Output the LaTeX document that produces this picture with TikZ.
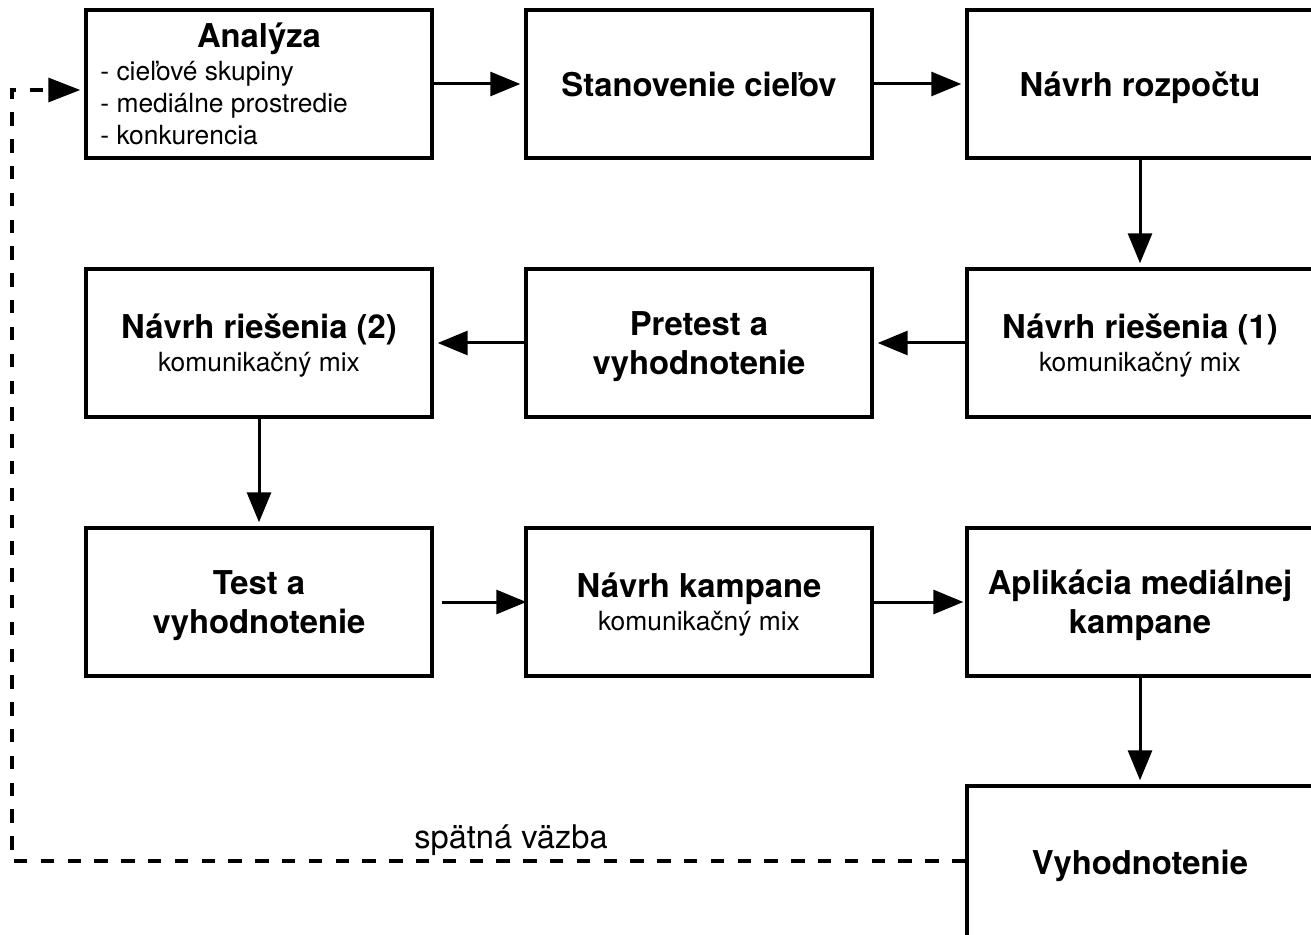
\documentclass[tikz,border=0pt]{standalone}
\usepackage{fontspec}
\setmainfont{TeX Gyre Heros}
\usetikzlibrary{arrows.meta,calc}
\begin{document}
\begin{tikzpicture}[x=0.5pt,y=-0.5pt,
  box/.style={draw,line width=1.7pt,minimum width=173pt,minimum height=74pt,inner sep=0pt,text depth=0pt,align=center,font=\fontsize{16.4}{19.5}\selectfont\bfseries},
  boxsub/.style={box,font=\fontsize{16.4}{16.5}\selectfont\bfseries},
  small/.style={font=\fontsize{13.2}{16}\selectfont},
  conn/.style={line width=1.5pt,-{Triangle[length=15pt,width=12pt]}},
  fb/.style={line width=1.6pt,dash pattern=on 6.7pt off 6.7pt,-{Triangle[length=16pt,width=12pt]}}]
\useasboundingbox (0,0) rectangle (1311,935);
\clip (0,0) rectangle (1311,935);
% row 1
\node[box] (ana) at (259,84) {};
\node[anchor=base,font=\fontsize{16.4}{19.5}\selectfont\bfseries] (anaT) at (259,48) {Analýza};
\node[small,anchor=base west,inner sep=0pt] (anaL1) at (100,81) {- cieľové skupiny};
\node[small,anchor=base west,inner sep=0pt] (anaL2) at (100,113) {- mediálne prostredie};
\node[small,anchor=base west,inner sep=0pt] (anaL3) at (100,145) {- konkurencia};
\node[box] (sta) at (699,84) {Stanovenie cieľov};
\node[box] (roz) at (1140,84) {Návrh rozpočtu};
% row 2
\node[boxsub] (nr2) at (259,343) {Návrh riešenia (2)\\{\mdseries\fontsize{13.2}{16}\selectfont komunikačný mix}};
\node[box] (pre) at (699,343) {Pretest a\\vyhodnotenie};
\node[boxsub] (nr1) at (1140,343) {Návrh riešenia (1)\\{\mdseries\fontsize{13.2}{16}\selectfont komunikačný mix}};
% row 3
\node[box] (tst) at (259,602) {Test a\\vyhodnotenie};
\node[boxsub] (kam) at (699,602) {Návrh kampane\\{\mdseries\fontsize{13.2}{16}\selectfont komunikačný mix}};
\node[box] (apl) at (1140,602) {Aplikácia mediálnej\\kampane};
% row 4
\node[box,minimum height=76pt] (vyh) at (1140,862) {Vyhodnotenie};
% connectors
\draw[conn,shorten >=2pt] (ana.east) -- (sta.west);
\draw[conn,shorten >=2pt] (sta.east) -- (roz.west);
\draw[conn,shorten >=2pt] (roz.south) -- (nr1.north);
\draw[conn,shorten >=2pt] (nr1.west) -- (pre.east);
\draw[conn,shorten >=2pt] (pre.west) -- (nr2.east);
\draw[conn,shorten >=2pt] (nr2.south) -- (tst.north);
\draw[conn,shorten <=4pt,shorten >=-1pt] (tst.east) -- (kam.west);
\draw[conn,shorten >=1pt] (kam.east) -- (apl.west);
\draw[conn,shorten >=2pt] (apl.south) -- (vyh.north);
% feedback
\coordinate (fbc) at (12,861);
\draw[fb,shorten >=2pt] (vyh.west |- fbc) -- (fbc) |- ([yshift=-3pt]ana.west);
\node[anchor=base,font=\fontsize{16.3}{19}\selectfont] (lbl) at (511,848) {spätná väzba};
\end{tikzpicture}
\end{document}
